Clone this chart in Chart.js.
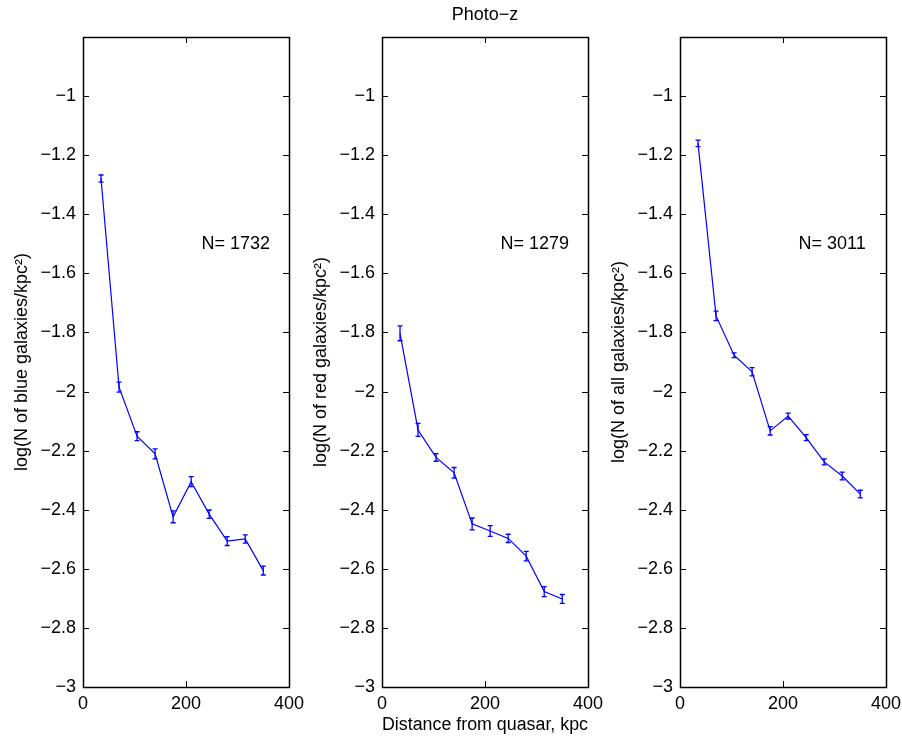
<!DOCTYPE html>
<html>
<head>
<meta charset="utf-8">
<title>Photo-z</title>
<script src="https://cdn.jsdelivr.net/npm/chart.js@4.4.1/dist/chart.umd.min.js"></script>
<style>
  html, body { margin: 0; padding: 0; background: #fff; overflow: hidden; }
  #wrap { position: relative; width: 902px; height: 738px; }
  canvas { position: absolute; top: 0; }
</style>
</head>
<body>
<div id="wrap">
  <canvas id="c0" width="306" height="738" style="left:0px"></canvas>
  <canvas id="c1" width="306" height="738" style="left:299px"></canvas>
  <canvas id="c2" width="306" height="738" style="left:597px"></canvas>
</div>
<script>
// data
const distances = [35, 70, 105, 140, 175, 210, 245, 280, 315, 350];

const blueLogN = [-1.279, -1.985, -2.151, -2.211, -2.424, -2.305, -2.415, -2.506, -2.499, -2.606];
const blueErr  = [0.012, 0.017, 0.015, 0.017, 0.020, 0.017, 0.014, 0.015, 0.014, 0.015];

const redLogN  = [-1.803, -2.130, -2.223, -2.275, -2.448, -2.472, -2.497, -2.557, -2.677, -2.702];
const redErr   = [0.025, 0.022, 0.013, 0.018, 0.020, 0.018, 0.014, 0.016, 0.017, 0.015];

const allLogN  = [-1.160, -1.744, -1.877, -1.933, -2.133, -2.083, -2.156, -2.238, -2.286, -2.347];
const allErr   = [0.011, 0.016, 0.008, 0.014, 0.014, 0.010, 0.010, 0.010, 0.013, 0.013];

const xTickValues = [0, 200, 400];
const yTickValues = [-3, -2.8, -2.6, -2.4, -2.2, -2, -1.8, -1.6, -1.4, -1.2, -1];

const yTitles = [
  'log(N of blue galaxies/kpc\u00B2)',
  'log(N of red galaxies/kpc\u00B2)',
  'log(N of all galaxies/kpc\u00B2)'
];
const countLabels = ['N= 1732', 'N= 1279', 'N= 3011'];
const countAt = { x: 230, y: -1.5 };

const figTitle = 'Photo\u2212z';
const xTitle = 'Distance from quasar, kpc';

Chart.defaults.font.family = '"Liberation Sans", Arial, Helvetica, sans-serif';
Chart.defaults.font.size = 18;
Chart.defaults.color = '#000';

function fmtTick(v) {
  return String(Math.round(v * 10) / 10).replace('-', '\u2212');
}

// box, inward ticks, error bars and N= label
const matlabAxes = {
  id: 'matlabAxes',
  afterDatasetsDraw(chart) {
    const { ctx, chartArea: a, scales: { x, y } } = chart;
    const opts = chart.options.plugins.matlabAxes;
    const vals = opts.values;
    const errs = opts.errors;
    const tl = 6;

    ctx.save();
    ctx.strokeStyle = '#000';
    ctx.lineWidth = 1;
    ctx.beginPath();
    yTickValues.forEach(v => {
      const py = Math.round(y.getPixelForValue(v)) + 0.5;
      ctx.moveTo(a.left, py); ctx.lineTo(a.left + tl, py);
      ctx.moveTo(a.right, py); ctx.lineTo(a.right - tl, py);
    });
    xTickValues.forEach(v => {
      const px = Math.round(x.getPixelForValue(v)) + 0.5;
      ctx.moveTo(px, a.top); ctx.lineTo(px, a.top + tl);
      ctx.moveTo(px, a.bottom); ctx.lineTo(px, a.bottom - tl);
    });
    ctx.stroke();

    ctx.lineWidth = 1.5;
    ctx.strokeRect(Math.round(a.left) + 0.5, Math.round(a.top) + 0.5,
      Math.round(a.right - a.left), Math.round(a.bottom - a.top));

    // error bars
    ctx.strokeStyle = '#0000ff';
    ctx.lineWidth = 1.3;
    ctx.beginPath();
    vals.forEach((v, i) => {
      const px = x.getPixelForValue(distances[i]);
      const lo = y.getPixelForValue(v - errs[i]);
      const hi = y.getPixelForValue(v + errs[i]);
      ctx.moveTo(px, lo); ctx.lineTo(px, hi);
      ctx.moveTo(px - 2.5, lo); ctx.lineTo(px + 2.5, lo);
      ctx.moveTo(px - 2.5, hi); ctx.lineTo(px + 2.5, hi);
    });
    ctx.stroke();

    ctx.fillStyle = '#000';
    ctx.font = '18px "Liberation Sans", Arial, sans-serif';
    ctx.textAlign = 'left';
    ctx.textBaseline = 'middle';
    ctx.fillText(opts.count, x.getPixelForValue(countAt.x), y.getPixelForValue(countAt.y));
    ctx.restore();
  }
};

// the line chart uses {x,y} points built from the arrays
function pts(vals) { return vals.map((v, i) => ({ x: distances[i], y: v })); }

function makePanel(id, values, errors, idx) {
  const middle = idx === 1;
  return new Chart(document.getElementById(id), {
    type: 'line',
    data: {
      datasets: [{
        data: pts(values),
        borderColor: '#0000ff',
        borderWidth: 1.2,
        pointRadius: 0,
        fill: false,
        tension: 0
      }]
    },
    options: {
      responsive: false,
      animation: false,
      layout: { padding: { top: middle ? 0 : 37, right: 17, bottom: 0, left: 0 } },
      scales: {
        x: {
          type: 'linear',
          min: 0, max: 400,
          afterBuildTicks: s => { s.ticks = xTickValues.map(v => ({ value: v })); },
          afterFit: s => { s.height = 51; s.paddingLeft = 0; s.paddingRight = 0; },
          grid: { display: false, drawTicks: false },
          border: { display: false },
          ticks: { padding: 6, maxRotation: 0, autoSkip: false, callback: v => fmtTick(v) },
          title: {
            display: middle, text: xTitle,
            padding: { top: 0, bottom: 2 }
          }
        },
        y: {
          min: -3, max: -0.8,
          afterBuildTicks: s => { s.ticks = yTickValues.map(v => ({ value: v })); },
          afterFit: s => { s.width = 83; s.paddingTop = 0; s.paddingBottom = 0; },
          grid: { display: false, drawTicks: false },
          border: { display: false },
          ticks: { padding: 7, autoSkip: false, callback: v => fmtTick(v) },
          title: {
            display: true, text: yTitles[idx],
            padding: { top: 11, bottom: 0 }
          }
        }
      },
      plugins: {
        legend: { display: false },
        tooltip: { enabled: false },
        title: {
          display: middle, text: figTitle, fullSize: false,
          font: { size: 18, weight: 'normal' },
          padding: { top: 4, bottom: 11.4 }
        },
        matlabAxes: { values: values, errors: errors, count: countLabels[idx] }
      }
    },
    plugins: [matlabAxes]
  });
}

const panels = [
  makePanel('c0', blueLogN, blueErr, 0),
  makePanel('c1', redLogN, redErr, 1),
  makePanel('c2', allLogN, allErr, 2)
];
</script>
</body>
</html>
